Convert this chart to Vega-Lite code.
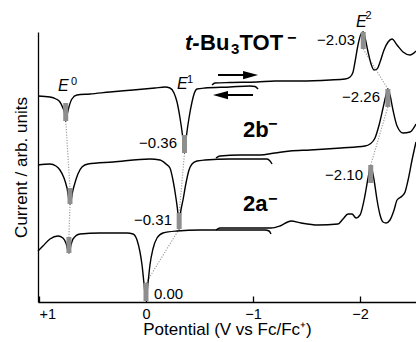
{
  "$schema": "https://vega.github.io/schema/vega-lite/v6.json",
  "width": 378,
  "height": 270,
  "autosize": {"type": "none"},
  "padding": {"left": 38, "top": 32, "right": 0, "bottom": 40},
  "config": {"view": {"stroke": null}, "font": "Liberation Sans"},
  "datasets": {
    "curves": [
      {"s":"Tox","i":1,"v":1.009,"y":206},{"s":"Tox","i":2,"v":0.897,"y":205},{"s":"Tox","i":3,"v":0.841,"y":203},{"s":"Tox","i":4,"v":0.804,"y":200},{"s":"Tox","i":5,"v":0.776,"y":194},{"s":"Tox","i":6,"v":0.757,"y":187},{"s":"Tox","i":7,"v":0.75,"y":181},{"s":"Tox","i":8,"v":0.738,"y":187},{"s":"Tox","i":9,"v":0.72,"y":195},{"s":"Tox","i":10,"v":0.692,"y":203},{"s":"Tox","i":11,"v":0.645,"y":207},{"s":"Tox","i":12,"v":0.523,"y":208},{"s":"Tox","i":13,"v":0.336,"y":210},{"s":"Tox","i":14,"v":0.121,"y":212},{"s":"Tox","i":15,"v":-0.084,"y":214},{"s":"Tox","i":16,"v":-0.178,"y":215},{"s":"Tox","i":17,"v":-0.224,"y":214},{"s":"Tox","i":18,"v":-0.262,"y":209},{"s":"Tox","i":19,"v":-0.29,"y":200},{"s":"Tox","i":20,"v":-0.318,"y":184},{"s":"Tox","i":21,"v":-0.341,"y":167},{"s":"Tox","i":22,"v":-0.36,"y":149},{"s":"Tox","i":23,"v":-0.379,"y":167},{"s":"Tox","i":24,"v":-0.402,"y":184},{"s":"Tox","i":25,"v":-0.43,"y":200},{"s":"Tox","i":26,"v":-0.449,"y":208},{"s":"Tox","i":27,"v":-0.477,"y":213},{"s":"Tox","i":28,"v":-0.551,"y":214},{"s":"Tox","i":29,"v":-0.785,"y":215},{"s":"Tox","i":30,"v":-0.972,"y":216},{"s":"Tox","i":31,"v":-1.019,"y":215.5},{"s":"Tox","i":32,"v":-1.047,"y":213},
      {"s":"Tred","i":1,"v":-0.617,"y":217},{"s":"Tred","i":2,"v":-0.645,"y":219},{"s":"Tred","i":3,"v":-0.785,"y":219.5},{"s":"Tred","i":4,"v":-1.037,"y":220},{"s":"Tred","i":5,"v":-1.206,"y":221},{"s":"Tred","i":6,"v":-1.439,"y":221},{"s":"Tred","i":7,"v":-1.72,"y":222},{"s":"Tred","i":8,"v":-1.86,"y":223},{"s":"Tred","i":9,"v":-1.907,"y":225},{"s":"Tred","i":10,"v":-1.935,"y":230},{"s":"Tred","i":11,"v":-1.953,"y":240},{"s":"Tred","i":12,"v":-1.981,"y":257},{"s":"Tred","i":13,"v":-2.009,"y":268},{"s":"Tred","i":14,"v":-2.03,"y":270},{"s":"Tred","i":15,"v":-2.047,"y":264},{"s":"Tred","i":16,"v":-2.075,"y":250},{"s":"Tred","i":17,"v":-2.103,"y":238},{"s":"Tred","i":18,"v":-2.131,"y":232},{"s":"Tred","i":19,"v":-2.159,"y":233},{"s":"Tred","i":20,"v":-2.187,"y":240},{"s":"Tred","i":21,"v":-2.224,"y":252},{"s":"Tred","i":22,"v":-2.262,"y":260},{"s":"Tred","i":23,"v":-2.299,"y":263},{"s":"Tred","i":24,"v":-2.346,"y":257},{"s":"Tred","i":25,"v":-2.402,"y":250},{"s":"Tred","i":26,"v":-2.467,"y":247},{"s":"Tred","i":27,"v":-2.523,"y":251},
      {"s":"Box","i":1,"v":1.009,"y":137},{"s":"Box","i":2,"v":0.897,"y":138},{"s":"Box","i":3,"v":0.841,"y":136},{"s":"Box","i":4,"v":0.804,"y":132},{"s":"Box","i":5,"v":0.766,"y":124},{"s":"Box","i":6,"v":0.738,"y":114},{"s":"Box","i":7,"v":0.71,"y":98},{"s":"Box","i":8,"v":0.682,"y":112},{"s":"Box","i":9,"v":0.664,"y":119},{"s":"Box","i":10,"v":0.636,"y":128},{"s":"Box","i":11,"v":0.598,"y":135},{"s":"Box","i":12,"v":0.542,"y":138},{"s":"Box","i":13,"v":0.308,"y":140},{"s":"Box","i":14,"v":-0.037,"y":143},{"s":"Box","i":15,"v":-0.131,"y":142},{"s":"Box","i":16,"v":-0.187,"y":138},{"s":"Box","i":17,"v":-0.224,"y":134},{"s":"Box","i":18,"v":-0.252,"y":122},{"s":"Box","i":19,"v":-0.28,"y":104},{"s":"Box","i":20,"v":-0.299,"y":88},{"s":"Box","i":21,"v":-0.31,"y":73},{"s":"Box","i":22,"v":-0.322,"y":88},{"s":"Box","i":23,"v":-0.346,"y":102},{"s":"Box","i":24,"v":-0.374,"y":119},{"s":"Box","i":25,"v":-0.402,"y":132},{"s":"Box","i":26,"v":-0.43,"y":138},{"s":"Box","i":27,"v":-0.477,"y":141},{"s":"Box","i":28,"v":-0.551,"y":142},{"s":"Box","i":29,"v":-0.785,"y":143},{"s":"Box","i":30,"v":-1.065,"y":143},{"s":"Box","i":31,"v":-1.131,"y":143},{"s":"Box","i":32,"v":-1.159,"y":141},{"s":"Box","i":33,"v":-1.178,"y":138},
      {"s":"Bred","i":1,"v":-0.654,"y":144},{"s":"Bred","i":2,"v":-0.692,"y":146},{"s":"Bred","i":3,"v":-0.879,"y":147},{"s":"Bred","i":4,"v":-1.065,"y":147},{"s":"Bred","i":5,"v":-1.206,"y":149},{"s":"Bred","i":6,"v":-1.346,"y":151},{"s":"Bred","i":7,"v":-1.533,"y":152},{"s":"Bred","i":8,"v":-1.822,"y":154},{"s":"Bred","i":9,"v":-2.047,"y":156},{"s":"Bred","i":10,"v":-2.093,"y":158},{"s":"Bred","i":11,"v":-2.14,"y":164},{"s":"Bred","i":12,"v":-2.178,"y":177},{"s":"Bred","i":13,"v":-2.215,"y":194},{"s":"Bred","i":14,"v":-2.243,"y":207},{"s":"Bred","i":15,"v":-2.26,"y":213},{"s":"Bred","i":16,"v":-2.28,"y":207},{"s":"Bred","i":17,"v":-2.308,"y":192},{"s":"Bred","i":18,"v":-2.346,"y":176},{"s":"Bred","i":19,"v":-2.402,"y":169},{"s":"Bred","i":20,"v":-2.467,"y":170},{"s":"Bred","i":21,"v":-2.523,"y":178},
      {"s":"Aox","i":1,"v":1.009,"y":51},{"s":"Aox","i":2,"v":0.963,"y":56},{"s":"Aox","i":3,"v":0.897,"y":63},{"s":"Aox","i":4,"v":0.822,"y":66},{"s":"Aox","i":5,"v":0.776,"y":64},{"s":"Aox","i":6,"v":0.748,"y":59},{"s":"Aox","i":7,"v":0.72,"y":49},{"s":"Aox","i":8,"v":0.701,"y":57},{"s":"Aox","i":9,"v":0.682,"y":63},{"s":"Aox","i":10,"v":0.617,"y":68},{"s":"Aox","i":11,"v":0.43,"y":69},{"s":"Aox","i":12,"v":0.178,"y":69},{"s":"Aox","i":13,"v":0.121,"y":68},{"s":"Aox","i":14,"v":0.084,"y":62},{"s":"Aox","i":15,"v":0.056,"y":50},{"s":"Aox","i":16,"v":0.037,"y":37},{"s":"Aox","i":17,"v":0.019,"y":19},{"s":"Aox","i":18,"v":0,"y":2},{"s":"Aox","i":19,"v":-0.019,"y":19},{"s":"Aox","i":20,"v":-0.037,"y":37},{"s":"Aox","i":21,"v":-0.065,"y":53},{"s":"Aox","i":22,"v":-0.103,"y":64},{"s":"Aox","i":23,"v":-0.159,"y":69},{"s":"Aox","i":24,"v":-0.29,"y":71},{"s":"Aox","i":25,"v":-0.505,"y":72},{"s":"Aox","i":26,"v":-0.879,"y":72},{"s":"Aox","i":27,"v":-1.112,"y":72},{"s":"Aox","i":28,"v":-1.15,"y":71},{"s":"Aox","i":29,"v":-1.168,"y":68},
      {"s":"Ared","i":1,"v":-0.654,"y":72},{"s":"Ared","i":2,"v":-0.692,"y":74},{"s":"Ared","i":3,"v":-0.972,"y":74},{"s":"Ared","i":4,"v":-1.168,"y":74},{"s":"Ared","i":5,"v":-1.252,"y":76},{"s":"Ared","i":6,"v":-1.355,"y":81},{"s":"Ared","i":7,"v":-1.449,"y":79},{"s":"Ared","i":8,"v":-1.607,"y":77},{"s":"Ared","i":9,"v":-1.794,"y":78},{"s":"Ared","i":10,"v":-1.841,"y":83},{"s":"Ared","i":11,"v":-1.888,"y":88},{"s":"Ared","i":12,"v":-1.925,"y":88},{"s":"Ared","i":13,"v":-1.963,"y":84},{"s":"Ared","i":14,"v":-2.0,"y":87},{"s":"Ared","i":15,"v":-2.047,"y":107},{"s":"Ared","i":16,"v":-2.075,"y":124},{"s":"Ared","i":17,"v":-2.1,"y":136},{"s":"Ared","i":18,"v":-2.131,"y":122},{"s":"Ared","i":19,"v":-2.159,"y":102},{"s":"Ared","i":20,"v":-2.187,"y":87},{"s":"Ared","i":21,"v":-2.215,"y":80},{"s":"Ared","i":22,"v":-2.243,"y":79},{"s":"Ared","i":23,"v":-2.28,"y":82},{"s":"Ared","i":24,"v":-2.318,"y":92},{"s":"Ared","i":25,"v":-2.346,"y":102},{"s":"Ared","i":26,"v":-2.393,"y":106},{"s":"Ared","i":27,"v":-2.421,"y":110},{"s":"Ared","i":28,"v":-2.449,"y":122},{"s":"Ared","i":29,"v":-2.486,"y":142},{"s":"Ared","i":30,"v":-2.523,"y":160}
    ],
    "bars": [
      {"v":0.75,"y":199,"y2":181},{"v":0.71,"y":114,"y2":98},{"v":0.72,"y":65,"y2":49},
      {"v":-0.36,"y":167,"y2":149},{"v":-0.31,"y":89,"y2":73},{"v":0.0,"y":19,"y2":1},
      {"v":-2.03,"y":270,"y2":253},{"v":-2.26,"y":213,"y2":195},{"v":-2.1,"y":137,"y2":119}
    ],
    "links": [
      {"v":0.75,"y":181,"v2":0.71,"y2":114},{"v":0.71,"y":98,"v2":0.72,"y2":65},
      {"v":-0.36,"y":149,"v2":-0.31,"y2":89},{"v":-0.31,"y":73,"v2":0.0,"y2":19},
      {"v":-2.03,"y":253,"v2":-2.26,"y2":213},{"v":-2.26,"y":195,"v2":-2.1,"y2":137}
    ],
    "vlabR": [
      {"v":-0.29,"y":159,"t":"−0.36"},{"v":-1.953,"y":262,"t":"−2.03"},{"v":-2.187,"y":205,"t":"−2.26"},
      {"v":-0.243,"y":82,"t":"−0.31"},{"v":-2.028,"y":127,"t":"−2.10"}
    ],
    "vlabL": [{"v":-0.075,"y":8,"t":"0.00"}],
    "eLab": [{"v":0.822,"y":211,"t":"E"},{"v":-0.29,"y":213,"t":"E"},{"v":-1.963,"y":275,"t":"E"}],
    "eSup": [{"v":0.701,"y":217,"t":"0"},{"v":-0.383,"y":219,"t":"1"},{"v":-2.051,"y":283,"t":"2"}],
    "bold": [{"v":-0.505,"y":252,"t":"Bu"},{"v":-0.874,"y":252,"t":"TOT"},{"v":-0.907,"y":165,"t":"2b"},{"v":-0.907,"y":91,"t":"2a"}],
    "boldItalic": [{"v":-0.364,"y":252,"t":"t-"}],
    "boldSub": [{"v":-0.794,"y":248,"t":"3"}],
    "boldSup": [{"v":-1.318,"y":259,"t":"−"},{"v":-1.14,"y":173,"t":"−"},{"v":-1.14,"y":98,"t":"−"}],
    "shafts": [{"v":-0.673,"v2":-0.99,"y":227},{"v":-0.766,"v2":-1.0,"y":207}],
    "headR": [{"v":-1.047,"y":227}],
    "headL": [{"v":-0.626,"y":207}]
  },
  "encoding": {
    "x": {
      "field": "v", "type": "quantitative",
      "scale": {"domain": [-2.523, 1.009], "reverse": true, "nice": false, "zero": false},
      "axis": {
        "title": "Potential (V vs Fc/Fc⁺)", "values": [1, 0, -1, -2],
        "labelExpr": "datum.value > 0 ? '+' + datum.label : datum.label",
        "grid": false, "tickSize": -6, "labelPadding": 11, "labelFlush": 3,
        "labelFontSize": 14.5, "labelColor": "black", "tickColor": "black", "tickWidth": 1.3,
        "domainColor": "black", "domainWidth": 1.3,
        "titleFontSize": 17, "titleFontWeight": "normal", "titleColor": "black", "titlePadding": 1
      }
    },
    "y": {
      "field": "y", "type": "quantitative",
      "scale": {"domain": [0, 270], "nice": false, "zero": false},
      "axis": {
        "title": "Current / arb. units", "ticks": false, "labels": false, "grid": false,
        "domainColor": "black", "domainWidth": 1.3,
        "titleFontSize": 17, "titleFontWeight": "normal", "titleColor": "black", "titlePadding": 8
      }
    }
  },
  "layer": [
    {"data": {"name": "links"}, "mark": {"type": "rule", "color": "#a0a0a0", "strokeWidth": 1.2, "strokeDash": [1.2, 1.5]},
     "encoding": {"x2": {"field": "v2"}, "y2": {"field": "y2"}}},
    {"data": {"name": "curves"}, "mark": {"type": "line", "color": "black", "strokeWidth": 1.4, "interpolate": "monotone"},
     "encoding": {"detail": {"field": "s"}, "order": {"field": "i", "type": "quantitative"}}},
    {"data": {"name": "bars"}, "mark": {"type": "rule", "color": "#8e8e8e", "strokeWidth": 5},
     "encoding": {"y2": {"field": "y2"}}},
    {"data": {"name": "shafts"}, "mark": {"type": "rule", "color": "black", "strokeWidth": 2},
     "encoding": {"x2": {"field": "v2"}}},
    {"data": {"name": "headR"}, "mark": {"type": "point", "shape": "M0,0L-2,-0.55L-2,0.55Z", "filled": true, "color": "black", "opacity": 1, "size": 225, "strokeWidth": 0}},
    {"data": {"name": "headL"}, "mark": {"type": "point", "shape": "M0,0L2,-0.55L2,0.55Z", "filled": true, "color": "black", "opacity": 1, "size": 225, "strokeWidth": 0}},
    {"data": {"name": "vlabR"}, "mark": {"type": "text", "align": "right", "baseline": "middle", "fontSize": 15, "color": "black"},
     "encoding": {"text": {"field": "t"}}},
    {"data": {"name": "vlabL"}, "mark": {"type": "text", "align": "left", "baseline": "middle", "fontSize": 15, "color": "black"},
     "encoding": {"text": {"field": "t"}}},
    {"data": {"name": "eLab"}, "mark": {"type": "text", "align": "left", "baseline": "alphabetic", "fontSize": 16, "fontStyle": "italic", "color": "black"},
     "encoding": {"text": {"field": "t"}}},
    {"data": {"name": "eSup"}, "mark": {"type": "text", "align": "left", "baseline": "alphabetic", "fontSize": 11, "color": "black"},
     "encoding": {"text": {"field": "t"}}},
    {"data": {"name": "bold"}, "mark": {"type": "text", "align": "left", "baseline": "alphabetic", "fontSize": 22, "fontWeight": "bold", "color": "black"},
     "encoding": {"text": {"field": "t"}}},
    {"data": {"name": "boldItalic"}, "mark": {"type": "text", "align": "left", "baseline": "alphabetic", "fontSize": 22, "fontWeight": "bold", "fontStyle": "italic", "color": "black"},
     "encoding": {"text": {"field": "t"}}},
    {"data": {"name": "boldSub"}, "mark": {"type": "text", "align": "left", "baseline": "alphabetic", "fontSize": 15, "fontWeight": "bold", "color": "black"},
     "encoding": {"text": {"field": "t"}}},
    {"data": {"name": "boldSup"}, "mark": {"type": "text", "align": "left", "baseline": "alphabetic", "fontSize": 16, "fontWeight": "bold", "color": "black"},
     "encoding": {"text": {"field": "t"}}}
  ]
}
